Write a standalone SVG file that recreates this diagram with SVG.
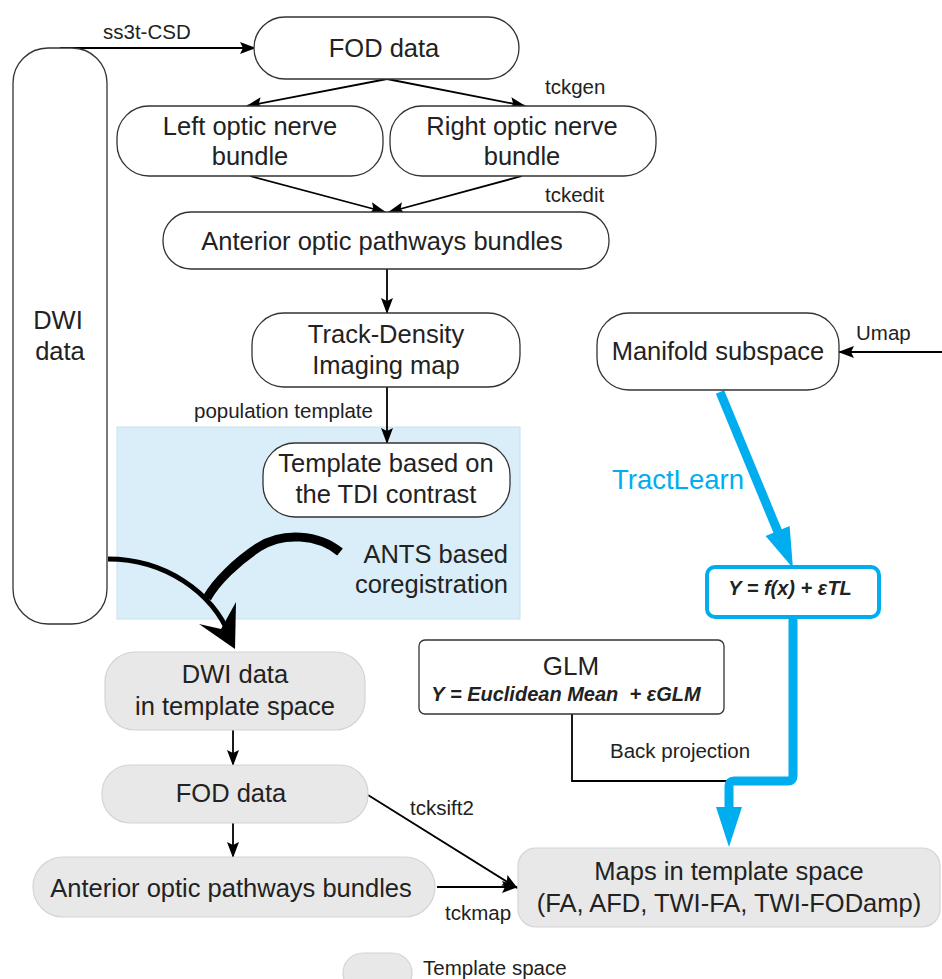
<svg xmlns="http://www.w3.org/2000/svg" width="942" height="979" viewBox="0 0 942 979">
<defs>
<style>
.node{fill:#fff;stroke:#333;stroke-width:1.3}
.gnode{fill:#e8e8e8;stroke:#d4d4d4;stroke-width:1.2}
.t{font-family:"Liberation Sans",Arial,sans-serif;font-size:25.5px;fill:#222;text-anchor:middle}
.lbl{font-family:"Liberation Sans",Arial,sans-serif;font-size:20.5px;fill:#222}
.edge{fill:none;stroke:#000;stroke-width:1.8}
.blue{fill:none;stroke:#00aeef;stroke-width:9}
</style>
<marker id="ah" markerUnits="userSpaceOnUse" markerWidth="16" markerHeight="12" refX="15" refY="6" orient="auto" overflow="visible">
<path d="M0,0 L16,6 L0,12 L3,6 z" fill="#000"/>
</marker>
<marker id="bh" markerUnits="userSpaceOnUse" markerWidth="40" markerHeight="26" refX="1" refY="13" orient="auto" overflow="visible">
<path d="M0,0 L40,13 L0,26 z" fill="#00aeef"/>
</marker>
</defs>
<rect id="bg" x="0" y="0" width="942" height="979" fill="#fff"/>
<rect id="template-region" x="117" y="427" width="403" height="192" fill="#d9eef8" stroke="#c7e2ee" stroke-width="1"/>

<g id="connectors">
<path class="edge" d="M60,48 H255" marker-end="url(#ah)"/>
<path class="edge" d="M387,79 L247,106" marker-end="url(#ah)"/>
<path class="edge" d="M387,79 L525,106" marker-end="url(#ah)"/>
<path class="edge" d="M250,176 L385,212" marker-end="url(#ah)"/>
<path class="edge" d="M522,176 L389,212" marker-end="url(#ah)"/>
<path class="edge" d="M387,269 V313" marker-end="url(#ah)"/>
<path class="edge" d="M387,387 V443" marker-end="url(#ah)"/>
<path class="edge" d="M233,730 V765" marker-end="url(#ah)"/>
<path class="edge" d="M233,823 V857" marker-end="url(#ah)"/>
<path class="edge" d="M437,887 H517" marker-end="url(#ah)"/>
<path class="edge" d="M368,795 L517,888" marker-end="url(#ah)"/>
<path class="edge" d="M942,352 H839" marker-end="url(#ah)"/>
<path class="edge" d="M572,714 V781 H729"/>
<path d="M108,559 C165,559 212,592 230,636" fill="none" stroke="#000" stroke-width="5"/>
<polygon points="236,602 235,649 199,624 221,629" fill="#000"/>
<path d="M340,552 C318,534 283,532 259,547 C236,562 216,582 207,598" fill="none" stroke="#000" stroke-width="9"/>
<path class="blue" d="M720,392 L778,532" marker-end="url(#bh)"/>
<path class="blue" d="M793,618 V776 Q793,781 788,781 H734 Q729,781 729,786 V808" stroke-linejoin="round" marker-end="url(#bh)"/>
</g>

<g id="dwi"><rect class="node" x="13" y="48" width="94" height="576" rx="35"/>
<text class="t" x="58" y="329">DWI</text><text class="t" x="60" y="360">data</text></g>
<g id="fod"><rect class="node" x="254" y="17" width="265" height="62" rx="31"/>
<text class="t" x="384" y="57">FOD data</text></g>
<g id="left"><rect class="node" x="117" y="106" width="266" height="70" rx="32"/>
<text class="t" x="250" y="135">Left optic nerve</text><text class="t" x="250" y="165">bundle</text></g>
<g id="right"><rect class="node" x="390" y="106" width="266" height="70" rx="32"/>
<text class="t" x="522" y="135">Right optic nerve</text><text class="t" x="522" y="165">bundle</text></g>
<g id="anterior"><rect class="node" x="163" y="212" width="446" height="57" rx="28"/>
<text class="t" x="382" y="250">Anterior optic pathways bundles</text></g>
<g id="tdi"><rect class="node" x="252" y="313" width="268" height="74" rx="32"/>
<text class="t" x="386" y="343">Track-Density</text><text class="t" x="386" y="374">Imaging map</text></g>
<g id="template"><rect class="node" x="263" y="443" width="247" height="74" rx="32"/>
<text class="t" x="386" y="472">Template based on</text><text class="t" x="386" y="503">the TDI contrast</text></g>
<g id="ants"><text class="t" x="508" y="563" style="text-anchor:end">ANTS based</text><text class="t" x="508" y="593" style="text-anchor:end">coregistration</text></g>
<g id="manifold"><rect class="node" x="597" y="313" width="242" height="77" rx="32"/>
<text class="t" x="718" y="360">Manifold subspace</text></g>
<g id="tl"><rect x="707" y="567" width="172" height="50" rx="8" fill="#fff" stroke="#00aeef" stroke-width="4"/>
<text class="t" x="790" y="595" style="font-size:20px;font-weight:bold;font-style:italic">Y = f(x) + εTL</text></g>
<g id="glm"><rect class="node" x="419" y="640" width="305" height="74" rx="6"/>
<text class="t" x="571" y="675" style="font-size:26px">GLM</text>
<text class="t" x="566" y="701" style="font-size:20px;font-weight:bold;font-style:italic" xml:space="preserve">Y = Euclidean Mean  + εGLM</text></g>
<g id="dwi-template"><rect class="gnode" x="105" y="652" width="260" height="78" rx="30"/>
<text class="t" x="235" y="683">DWI data</text><text class="t" x="235" y="715">in template space</text></g>
<g id="fod-template"><rect class="gnode" x="102" y="765" width="266" height="58" rx="28"/>
<text class="t" x="231" y="802">FOD data</text></g>
<g id="anterior-template"><rect class="gnode" x="33" y="857" width="402" height="60" rx="30"/>
<text class="t" x="231" y="897">Anterior optic pathways bundles</text></g>
<g id="maps"><rect class="gnode" x="518" y="848" width="422" height="79" rx="18"/>
<text class="t" x="729" y="880">Maps in template space</text><text class="t" x="729" y="912">(FA, AFD, TWI-FA, TWI-FODamp)</text></g>
<g id="legend"><rect class="gnode" x="343" y="953" width="69" height="40" rx="20"/>
<text class="lbl" x="423" y="975">Template space</text></g>

<g id="labels">
<text class="lbl" x="103" y="39">ss3t-CSD</text>
<text class="lbl" x="545" y="94">tckgen</text>
<text class="lbl" x="545" y="202">tckedit</text>
<text class="lbl" x="194" y="418">population template</text>
<text class="lbl" x="856" y="340">Umap</text>
<text class="lbl" x="612" y="489" style="font-size:27.5px;fill:#00aeef">TractLearn</text>
<text class="lbl" x="610" y="758">Back projection</text>
<text class="lbl" x="410" y="815">tcksift2</text>
<text class="lbl" x="445" y="920">tckmap</text>
</g>
</svg>
